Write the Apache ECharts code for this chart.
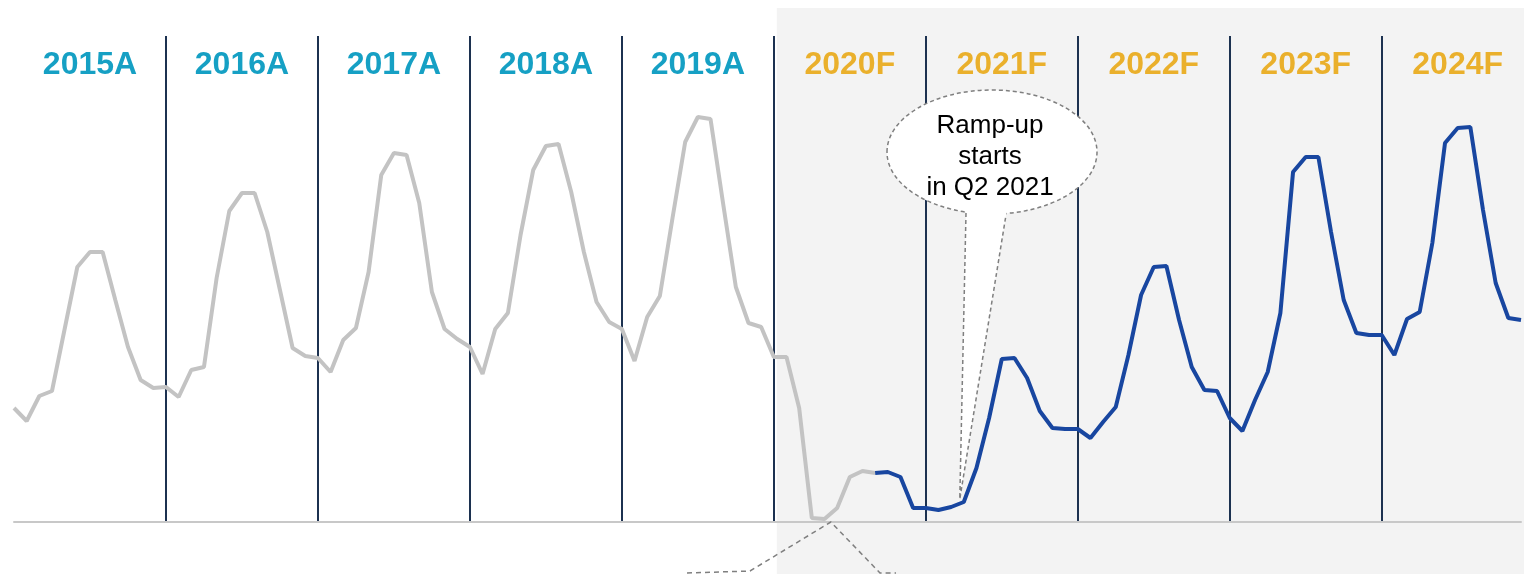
<!DOCTYPE html>
<html>
<head>
<meta charset="utf-8">
<title>Ramp-up</title>
<script src="https://cdn.jsdelivr.net/npm/echarts@6/dist/echarts.min.js"></script>
<style>
  html, body { margin: 0; padding: 0; background: #fff; }
  #main { width: 1524px; height: 574px; }
</style>
</head>
<body>
<div id="main"></div>
<script>
// 年份（A = 实际, F = 预测）
const years = [2015, 2016, 2017, 2018, 2019, 2020, 2021, 2022, 2023, 2024]
const yearLabels = ['2015A', '2016A', '2017A', '2018A', '2019A', '2020F', '2021F', '2022F', '2023F', '2024F']

// 月度数值 Jan 2015 - Sep 2020（灰线）
const actualValues = [
  114, 101, 126, 131, 193, 255, 270, 270, 222, 175, 142, 134,
  135, 125, 152, 155, 244, 311, 329, 329, 290, 232, 174, 166,
  164, 150, 182, 194, 250, 347, 369, 367, 319, 230, 193, 183,
  175, 148, 193, 209, 287, 352, 376, 378, 330, 270, 220, 200,
  193, 161, 205, 226, 304, 380, 405, 403, 318, 235, 199, 195,
  165, 165, 114, 4, 3, 14, 45, 51, 49
]
// Sep 2020 - Dec 2024（蓝线），第一个点和灰线相接
const forecastValues = [
  49, 50, 45, 14,
  14, 12, 15, 20, 54, 104, 163, 164, 144, 111, 94, 93,
  93, 84, 100, 115, 167, 227, 255, 256, 202, 155, 132, 131,
  104, 91, 122, 150, 209, 350, 365, 365, 290, 222, 189, 187,
  187, 167, 203, 210, 279, 379, 394, 395, 312, 239, 204, 202
]
const forecastStart = 68
const callout = ['Ramp-up', 'starts', 'in Q2 2021']
const calloutMonth = 75

const months = []
years.forEach(y => {
  for (let m = 1; m <= 12; m++) months.push(y + '-' + String(m).padStart(2, '0'))
})
const actualData = actualValues.concat(Array(months.length - actualValues.length).fill('-'))
const forecastData = Array(forecastStart).fill('-').concat(forecastValues)

const chart = echarts.init(document.getElementById('main'))
chart.setOption({
  animation: false,
  grid: { left: 14, right: 3, top: 36, bottom: 52 },
  xAxis: {
    type: 'category',
    data: months,
    boundaryGap: false,
    z: 3,
    axisLine: { lineStyle: { color: '#c8c8c8', width: 2 } },
    axisTick: { show: false },
    axisLabel: { show: false },
    splitLine: {
      show: true,
      interval: function (index) {
        return index > 0 && index % 12 === 0
      },
      lineStyle: { color: '#1c3150', width: 2 }
    }
  },
  yAxis: { type: 'value', min: 0, max: 486, show: false },
  series: [
    {
      name: 'Actual',
      type: 'line',
      data: actualData,
      showSymbol: false,
      lineStyle: { color: '#c3c3c3', width: 4 }
    },
    {
      name: 'Forecast',
      type: 'line',
      data: forecastData,
      showSymbol: false,
      lineStyle: { color: '#1846a0', width: 4 }
    }
  ]
})

// 背景、年份标签、气泡注释
const px = (i, v) => chart.convertToPixel({ gridIndex: 0 }, [i, v])
const shadeX = px(60, 0)[0] + 3
const base = px(64, 0)
const apexX = (px(64, 0)[0] + px(65, 0)[0]) / 2
const tip = px(calloutMonth, forecastValues[calloutMonth - forecastStart])
const dashStyle = { stroke: '#7f7f7f', lineWidth: 1.5, lineDash: [5, 4], fill: null }

const graphics = [
  {
    type: 'rect',
    z: -1,
    silent: true,
    shape: { x: shadeX, y: 8, width: 1524 - shadeX, height: 566 },
    style: { fill: '#f3f3f3' }
  },
  {
    type: 'polyline',
    z: 5,
    shape: { points: [[687, 573], [750, 571], [apexX, base[1]], [880, 573], [896, 573]] },
    style: dashStyle
  },
  {
    type: 'ellipse',
    z: 10,
    shape: { cx: 992, cy: 152, rx: 105, ry: 62 },
    style: { fill: '#fff', stroke: '#7f7f7f', lineWidth: 1.5, lineDash: [4, 3] }
  },
  {
    type: 'polygon',
    z: 11,
    shape: { points: [[962, 198], [1010, 198], [1006, 215], [tip[0] - 4, tip[1] - 3], [966, 213]] },
    style: { fill: '#fff' }
  },
  {
    type: 'polyline',
    z: 12,
    shape: { points: [[966, 213], [tip[0] - 4, tip[1] - 3], [1006, 215]] },
    style: { stroke: '#7f7f7f', lineWidth: 1.5, lineDash: [4, 3], fill: null }
  },
  {
    type: 'text',
    z: 13,
    x: 990,
    y: 157,
    style: {
      text: callout.join('\n'),
      fill: '#000',
      fontSize: 26,
      lineHeight: 31,
      fontFamily: '"Liberation Sans", Arial, sans-serif',
      align: 'center',
      verticalAlign: 'middle'
    }
  }
]
yearLabels.forEach((label, k) => {
  graphics.push({
    type: 'text',
    z: 6,
    x: px(12 * k + 6, 0)[0],
    y: 65,
    style: {
      text: label,
      fill: label.endsWith('A') ? '#16a0c4' : '#eab02c',
      fontSize: 32,
      fontWeight: 'bold',
      fontFamily: '"Liberation Sans", Arial, sans-serif',
      align: 'center',
      verticalAlign: 'middle'
    }
  })
})
chart.setOption({ graphic: graphics })
</script>
</body>
</html>
